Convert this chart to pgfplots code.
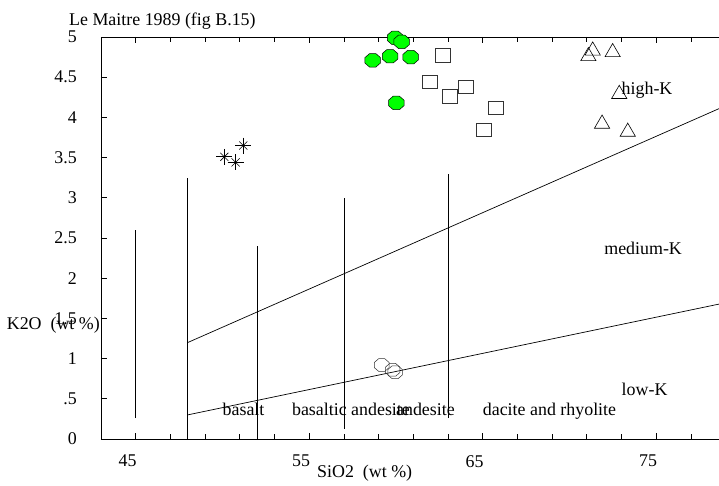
\documentclass[border=0pt]{standalone}
\usepackage{fontspec}
\setmainfont{Liberation Serif}
\usepackage{pgfplots}
\pgfplotsset{compat=1.18}

% octagon marks (filled and open)
\pgfdeclareplotmark{octagon}{%
  \pgfpathmoveto{\pgfpointpolar{22.5}{\pgfplotmarksize}}%
  \pgfpathlineto{\pgfpointpolar{67.5}{\pgfplotmarksize}}%
  \pgfpathlineto{\pgfpointpolar{112.5}{\pgfplotmarksize}}%
  \pgfpathlineto{\pgfpointpolar{157.5}{\pgfplotmarksize}}%
  \pgfpathlineto{\pgfpointpolar{202.5}{\pgfplotmarksize}}%
  \pgfpathlineto{\pgfpointpolar{247.5}{\pgfplotmarksize}}%
  \pgfpathlineto{\pgfpointpolar{292.5}{\pgfplotmarksize}}%
  \pgfpathlineto{\pgfpointpolar{337.5}{\pgfplotmarksize}}%
  \pgfpathclose
  \pgfusepathqfillstroke}
\pgfdeclareplotmark{octagon open}{%
  \pgfpathmoveto{\pgfpointpolar{22.5}{\pgfplotmarksize}}%
  \pgfpathlineto{\pgfpointpolar{67.5}{\pgfplotmarksize}}%
  \pgfpathlineto{\pgfpointpolar{112.5}{\pgfplotmarksize}}%
  \pgfpathlineto{\pgfpointpolar{157.5}{\pgfplotmarksize}}%
  \pgfpathlineto{\pgfpointpolar{202.5}{\pgfplotmarksize}}%
  \pgfpathlineto{\pgfpointpolar{247.5}{\pgfplotmarksize}}%
  \pgfpathlineto{\pgfpointpolar{292.5}{\pgfplotmarksize}}%
  \pgfpathlineto{\pgfpointpolar{337.5}{\pgfplotmarksize}}%
  \pgfpathclose
  \pgfusepathqstroke}

\begin{document}
\begin{tikzpicture}[font=\fontsize{17.9}{21}\selectfont]
\path[use as bounding box] (-101pt,-47pt) rectangle (618pt,439pt);
\begin{axis}[
  at={(0,0)}, anchor=south west,
  scale only axis,
  width=624.6pt, height=402pt,
  xmin=43, xmax=79,
  ymin=0, ymax=5,
  clip=false,
  axis line style={line width=0.8pt},
  tick align=inside,
  tick style={line width=0.8pt, black},
  major tick length=6pt, minor tick length=5pt,
  xtick={45,55,65,75},
  minor xtick={47,49,51,53,57,59,61,63,67,69,71,73,77},
  ytick={0,0.5,1,1.5,2,2.5,3,3.5,4,4.5,5},
  yticklabels={0,{.5\hspace{10pt}},1,{1.5\hspace{19pt}},2,{2.5\hspace{19pt}},3,{3.5\hspace{19pt}},4,{4.5\hspace{19pt}},5},
  /pgf/number format/assume math mode=true,
  xticklabel style={anchor=north east, inner sep=0pt, yshift=-16pt, xshift=1pt},
  yticklabel style={anchor=east, inner sep=0pt, xshift=-24pt},
  title={Le Maitre 1989 (fig B.15)},
  every axis title/.style={at={(rel axis cs:0,1)}, anchor=base west, inner sep=0pt, xshift=-32pt, yshift=11.8pt},
  xlabel={SiO2\ \ (wt \%)},
  every axis x label/.style={at={(rel axis cs:0,0)}, anchor=north west, inner sep=0pt, xshift=216pt, yshift=-26pt},
  ylabel={K2O\ \ (wt \%)},
  every axis y label/.style={at={(rel axis cs:0,0)}, anchor=base east, inner sep=0pt, xshift=-1pt, yshift=109pt},
]
% field boundaries (vertical)
\addplot[black, line width=0.7pt] coordinates {(45,0.26) (45,2.6)};
\addplot[black, line width=0.7pt] coordinates {(48,0) (48,3.25)};
\addplot[black, line width=0.7pt] coordinates {(52,0) (52,2.4)};
\addplot[black, line width=0.7pt] coordinates {(57,0.13) (57,3.0)};
\addplot[black, line width=0.7pt] coordinates {(63,0.26) (63,3.3)};

% high-K / medium-K and medium-K / low-K lines
\addplot[black, line width=0.7pt] coordinates {(48,1.2) (79,4.145)};
\addplot[black, line width=0.7pt] coordinates {(48,0.3) (79,1.695)};

% asterisks
\addplot[only marks, mark=+, mark size=8pt, mark options={line width=0.6pt, black}] coordinates {(50.11,3.51) (50.76,3.44) (51.2,3.65)};
\addplot[only marks, mark=x, mark size=5.7pt, mark options={line width=0.6pt, black}] coordinates {(50.11,3.51) (50.76,3.44) (51.2,3.65)};

% green octagons
\addplot[only marks, mark=octagon, mark size=7.8pt, mark options={fill=green, draw=black, line width=0.5pt, xscale=1.07, yscale=0.93}] coordinates {
(59.95,4.99) (60.33,4.94) (58.66,4.71) (59.66,4.76) (60.85,4.75) (60.02,4.18)};

% squares
\addplot[only marks, mark=square, mark size=7.6pt, mark options={draw=black!80, line width=0.8pt, yscale=0.87}] coordinates {
(62.69,4.77) (61.95,4.44) (64.04,4.38) (63.13,4.26) (65.78,4.12) (65.06,3.84)};

% triangles
\addplot[only marks, mark=triangle, mark size=8.8pt, mark options={draw=black, line width=0.6pt}] coordinates {
(71.34,4.83) (71.09,4.76) (72.49,4.81) (72.87,4.29) (71.88,3.92) (73.36,3.82)};

% open octagons
\addplot[only marks, mark=octagon open, mark size=7.4pt, mark options={draw=black!80, line width=0.5pt, xscale=1.07, yscale=0.93}] coordinates {
(59.18,0.92) (59.81,0.86) (59.95,0.83)};

% field names
\node[anchor=base west, inner sep=0pt] at (axis cs:73,4.28) {high-K};
\node[anchor=base west, inner sep=0pt] at (axis cs:72,2.30) {medium-K};
\node[anchor=base west, inner sep=0pt] at (axis cs:73,0.54) {low-K};
\node[anchor=base west, inner sep=0pt] at (axis cs:50,0.29) {basalt};
\node[anchor=base west, inner sep=0pt] at (axis cs:54,0.29) {basaltic andesite};
\node[anchor=base west, inner sep=0pt] at (axis cs:60,0.29) {andesite};
\node[anchor=base west, inner sep=0pt] at (axis cs:65,0.29) {dacite and rhyolite};
\end{axis}
\end{tikzpicture}
\end{document}
